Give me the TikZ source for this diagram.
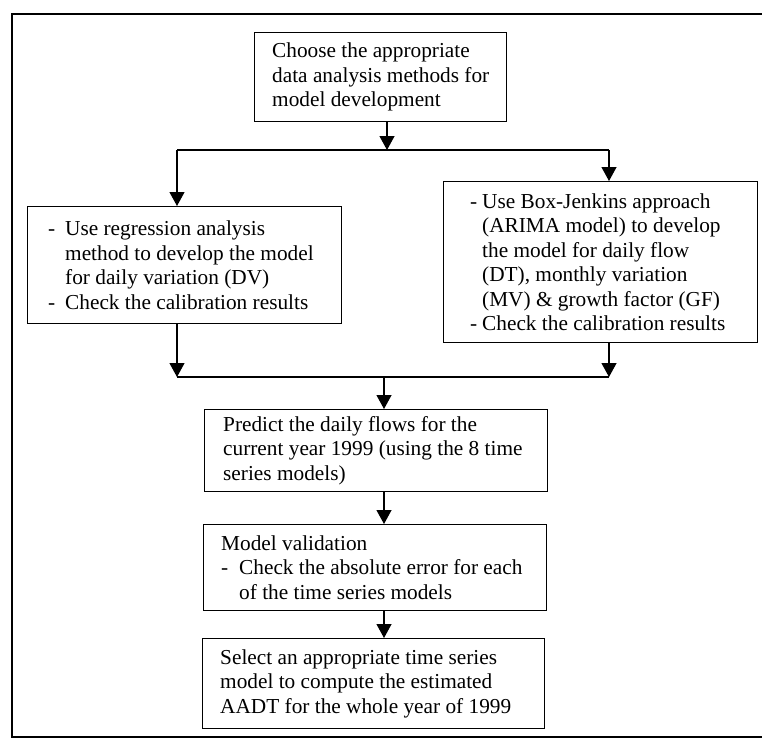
\documentclass[tikz,border=0pt]{standalone}
\usepackage{fontspec}
\setmainfont{Liberation Serif}
\usetikzlibrary{arrows.meta}
\begin{document}
\begin{tikzpicture}[x=1pt,y=-1pt,
  box/.style={draw, line width=1.2pt, inner sep=0pt, anchor=north west},
  txt/.style={anchor=west, align=left, inner sep=0pt, font=\fontsize{21.3}{24.5}\selectfont},
  ln/.style={line width=1.2pt},
  arr/.style={line width=1.2pt, -{Triangle[length=14pt,width=15pt]}}]
\useasboundingbox (0,0) rectangle (762,739);
% outer frame
\coordinate (fTR) at (762,14);
\coordinate (fTL) at (12,14);
\coordinate (fBL) at (12,737);
\coordinate (fBR) at (762,737);
\draw[line width=1.3pt] (fTR) -- (fTL) -- (fBL) -- (fBR);
% boxes
\node[box, minimum width=252pt, minimum height=89pt] (b1) at (254,32) {};
\node[txt] (b1t) at ([xshift=18pt]b1.west) {Choose the appropriate\\data analysis methods for\\model development};
\node[box, minimum width=314pt, minimum height=117pt] (lb) at (27,206) {};
\node[txt] (lbt) at ([xshift=21pt]lb.west) {\makebox[17pt][l]{-}Use regression analysis\\\hspace*{17pt}method to develop the model\\\hspace*{17pt}for daily variation (DV)\\\makebox[17pt][l]{-}Check the calibration results};
\node[box, minimum width=314pt, minimum height=161pt] (rb) at (443,181) {};
\node[txt] (rbt) at ([xshift=27pt]rb.west) {\makebox[12pt][l]{-}Use Box-Jenkins approach\\\hspace*{12pt}(ARIMA model) to develop\\\hspace*{12pt}the model for daily flow\\\hspace*{12pt}(DT), monthly variation\\\hspace*{12pt}(MV) \& growth factor (GF)\\\makebox[12pt][l]{-}Check the calibration results};
\node[box, minimum width=343pt, minimum height=82pt] (pb) at (204,409) {};
\node[txt] (pbt) at ([xshift=19pt]pb.west) {Predict the daily flows for the\\current year 1999 (using the 8 time\\series models)};
\node[box, minimum width=343pt, minimum height=86pt] (vb) at (203,524) {};
\node[txt] (vbt) at ([xshift=18pt]vb.west) {Model validation\\\makebox[18pt][l]{-}Check the absolute error for each\\\hspace*{18pt}of the time series models};
\node[box, minimum width=342pt, minimum height=90pt] (sb) at (202,638) {};
\node[txt] (sbt) at ([xshift=18pt]sb.west) {Select an appropriate time series\\model to compute the estimated\\AADT for the whole year of 1999};
% connectors
\coordinate (tc) at (387,150);
\coordinate (tl) at (177,150);
\coordinate (tr) at (609,150);
\coordinate (bl) at (177,377);
\coordinate (br) at (609,377);
\coordinate (bc) at (384,377);
\draw[arr] (b1.south -| tc) -- (tc);
\draw[ln] (tl) -- (tr);
\draw[arr] (tl) -- (tl |- lb.north);
\draw[arr] (tr) -- (tr |- rb.north);
\draw[arr] (bl |- lb.south) -- (bl);
\draw[arr] (br |- rb.south) -- (br);
\draw[ln] (bl) -- (br);
\draw[arr] (bc) -- (bc |- pb.north);
\draw[arr] (bc |- pb.south) -- (bc |- vb.north);
\draw[arr] (bc |- vb.south) -- (bc |- sb.north);
\end{tikzpicture}
\end{document}
